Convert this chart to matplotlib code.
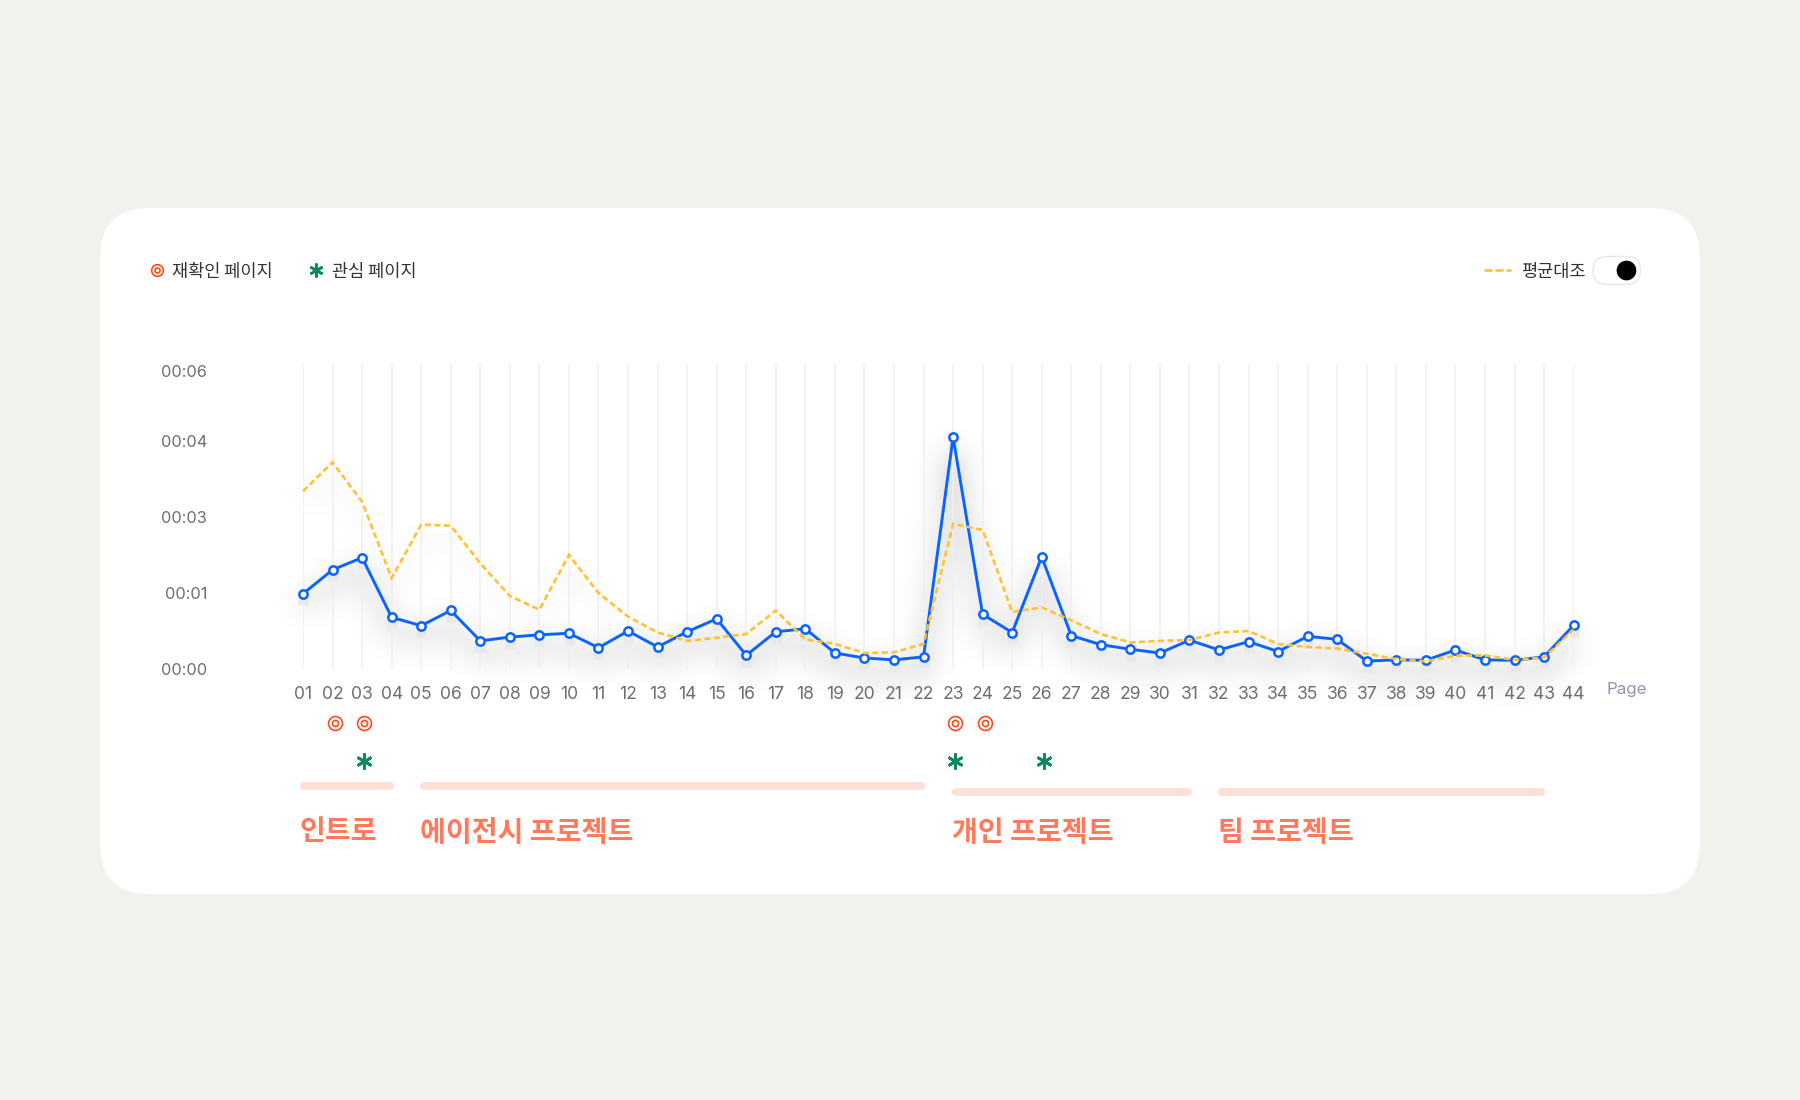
import numpy as np
import matplotlib
matplotlib.use("Agg")
import matplotlib.pyplot as plt
from matplotlib.patches import FancyBboxPatch
from matplotlib.transforms import blended_transform_factory, ScaledTranslation

KR = ["Noto Sans CJK KR", "DejaVu Sans"]
LAT = ["Inter", "Noto Sans CJK KR", "DejaVu Sans"]

# ---- data (seconds per page) ----
pages = list(range(1, 45))
page_labels = [f"{p:02d}" for p in pages]
my_time = [0.99, 1.61, 1.93, 0.68, 0.57, 0.77, 0.37, 0.42, 0.45, 0.47, 0.28,
           0.50, 0.29, 0.49, 0.66, 0.18, 0.49, 0.53, 0.21, 0.145, 0.12, 0.16,
           4.11, 0.72, 0.48, 1.95, 0.44, 0.32, 0.26, 0.21, 0.38, 0.25, 0.36,
           0.23, 0.43, 0.39, 0.105, 0.12, 0.115, 0.25, 0.12, 0.115, 0.16, 0.575]
avg_time = [3.34, 3.72, 3.20, 1.39, 2.80, 2.77, 1.78, 0.96, 0.78, 2.00, 1.00,
            0.69, 0.48, 0.37, 0.41, 0.46, 0.77, 0.39, 0.33, 0.21, 0.22, 0.33,
            2.82, 2.66, 0.75, 0.81, 0.64, 0.46, 0.35, 0.37, 0.38, 0.48, 0.50,
            0.33, 0.29, 0.27, 0.20, 0.13, 0.10, 0.175, 0.18, 0.12, 0.15, 0.52]
y_ticks = [0, 1, 3, 4, 6]
y_tick_labels = ["00:00", "00:01", "00:03", "00:04", "00:06"]
recheck_pages = [2, 3, 23, 24]
interest_pages = [3, 23, 26]
sections = ["인트로", "에이전시 프로젝트", "개인 프로젝트", "팀 프로젝트"]

# ---- style ----
BG = "#F2F1ED"
BLUE = "#0B63FF"
YEL = "#FFC233"
RED = "#FF4A1C"
GREEN = "#0B8A5B"
W, H = 1800, 1100
AX_L, AX_R, AX_T, AX_B = 303.0, 1573.6, 364.0, 669.0

sec_knots = np.array([0, 1, 3, 4, 6, 6.2, 100.0])
pos_knots = np.array([0, 76, 152, 228, 298, 305, 3000.0])
def fwd(v):
    return np.interp(v, sec_knots, pos_knots)
def inv(v):
    return np.interp(v, pos_knots, sec_knots)

def make_axes(fig):
    a = fig.add_axes([AX_L / W, 1 - AX_B / H, (AX_R - AX_L) / W, (AX_B - AX_T) / H])
    a.set_yscale("function", functions=(fwd, inv))
    a.set_xlim(1, 44)
    a.set_ylim(0, 6.2)
    a.patch.set_alpha(0)
    for s in a.spines.values():
        s.set_visible(False)
    return a

# ---- blurred line shadows, rendered offscreen ----
def blurred_layer(values, lw, sigma, dy, strength):
    f2 = plt.figure(figsize=(W / 100, H / 100), dpi=100)
    f2.patch.set_alpha(0)
    a2 = make_axes(f2)
    a2.axis("off")
    a2.plot(pages, values, color="k", lw=lw, clip_on=False)
    f2.canvas.draw()
    al = np.asarray(f2.canvas.buffer_rgba())[..., 3].astype(float) / 255
    plt.close(f2)
    fy = np.fft.fftfreq(H)[:, None]
    fx = np.fft.rfftfreq(W)[None, :]
    kern = np.exp(-2 * (np.pi * sigma) ** 2 * (fx ** 2 + fy ** 2))
    bl = np.fft.irfft2(np.fft.rfft2(al) * kern, s=al.shape)
    return np.roll(np.clip(bl, 0, 1), dy, axis=0) * strength

layer = blurred_layer(my_time, 3.0, 14, 14, 0.62) + blurred_layer(avg_time, 1.6, 14, 14, 0.22)
rgba = np.zeros((H, W, 4))
rgba[..., :3] = 0.25
rgba[..., 3] = np.clip(layer, 0, 1)

# ---- figure ----
fig = plt.figure(figsize=(W / 100, H / 100), dpi=100, facecolor=BG)

bg = fig.add_axes([0, 0, 1, 1], zorder=0)
bg.set_xlim(0, W)
bg.set_ylim(H, 0)
bg.axis("off")
bg.add_patch(FancyBboxPatch((100, 208), 1600, 686,
                            boxstyle="round,pad=0,rounding_size=50",
                            fc="white", ec="none"))

fig.figimage(rgba, 0, 0, origin="upper", zorder=1)

ax = make_axes(fig)
ax.set_zorder(2)

ax.set_xticks(pages)
ax.set_xticklabels(page_labels, family=LAT, fontsize=12.6, color="#6E6E6E")
ax.set_yticks(y_ticks)
ax.set_yticklabels(y_tick_labels, family=LAT, fontsize=11.8, color="#6E6E6E")
ax.tick_params(axis="both", which="both", length=0)
ax.tick_params(axis="x", pad=12)
ax.tick_params(axis="y", pad=69)
ax.xaxis.grid(True, color="#EFEFF1", lw=1.1, zorder=0)
ax.yaxis.grid(False)
ax.set_axisbelow(True)

# small blocky shadow beneath each marker
shadow_off = ax.transData + ScaledTranslation(0, -6.5 / 100, fig.dpi_scale_trans)
ax.plot(pages, my_time, ls="none", marker="s", ms=7.4, mfc="#E9E9E9", mec="none",
        transform=shadow_off, clip_on=False, zorder=1.5)

ax.plot(pages, avg_time, color=YEL, lw=1.9, dashes=(2.3, 1.3), zorder=3, clip_on=False,
        dash_joinstyle="miter")
ax.plot(pages, my_time, color=BLUE, lw=2.1, zorder=2.5, clip_on=False,
        marker="o", ms=6.0, mfc="white", mec=BLUE, mew=1.8)

# annotation rows beneath the axis
trans = blended_transform_factory(ax.transData, bg.transData)
x_nudge = 0.08

def draw_target(axx, xs, ys, tr, outer=10.0, inner=4.4):
    axx.plot(xs, ys, ls="none", marker="o", ms=outer, mfc="none", mec=RED, mew=1.2,
             transform=tr, clip_on=False)
    axx.plot(xs, ys, ls="none", marker="o", ms=inner, mfc="none", mec=RED, mew=1.2,
             transform=tr, clip_on=False)

def draw_star(axx, xs, ys, tr, ms=11.5, mew=2.0):
    axx.plot(xs, ys, ls="none", marker=(6, 2, 0), ms=ms, mec=GREEN, mew=mew,
             transform=tr, clip_on=False)

draw_target(ax, [p + x_nudge for p in recheck_pages], [722.5] * len(recheck_pages), trans)
draw_star(ax, [p + x_nudge for p in interest_pages], [760.5] * len(interest_pages), trans)

# section bars & labels
bar_spans = [(300, 394, 782), (420, 925.5, 782), (952, 1192, 788), (1218, 1545, 788)]
for name, (x0, x1, yb) in zip(sections, bar_spans):
    bg.add_patch(FancyBboxPatch((x0, yb), x1 - x0, 8,
                                boxstyle="round,pad=0,rounding_size=4",
                                fc="#FFE0D8", ec="none"))
    bg.text(x0 - 0.5, 832.5, name, family=KR, fontsize=20.3, fontweight="bold",
            color="#FF7A5C", ha="left", va="center")

# legend
draw_target(bg, [156.5], [270], bg.transData, outer=8.4, inner=3.6)
bg.text(172.5, 271.5, "재확인 페이지", family=KR, fontsize=12.65, color="#333333", va="center")
draw_star(bg, [316], [270], bg.transData, ms=10.0, mew=1.8)
bg.text(332, 271.5, "관심 페이지", family=KR, fontsize=12.65, color="#333333", va="center")

bg.plot([1484, 1511], [270, 270], color=YEL, lw=1.9, dashes=(3.0, 1.2))
bg.text(1521, 271.5, "평균대조", family=KR, fontsize=12.65, color="#333333", va="center")
bg.add_patch(FancyBboxPatch((1593, 256.5), 47.5, 28,
                            boxstyle="round,pad=0,rounding_size=14",
                            fc="white", ec="#E6E6EC", lw=1.0))
bg.plot([1626], [270.3], marker="o", ms=14.2, mfc="black", mec="none", ls="none")

bg.text(1607, 689.5, "Page", family=LAT, fontsize=12.2, color="#9094B8", va="center")

fig.savefig("out.png", dpi=100, facecolor=BG)
